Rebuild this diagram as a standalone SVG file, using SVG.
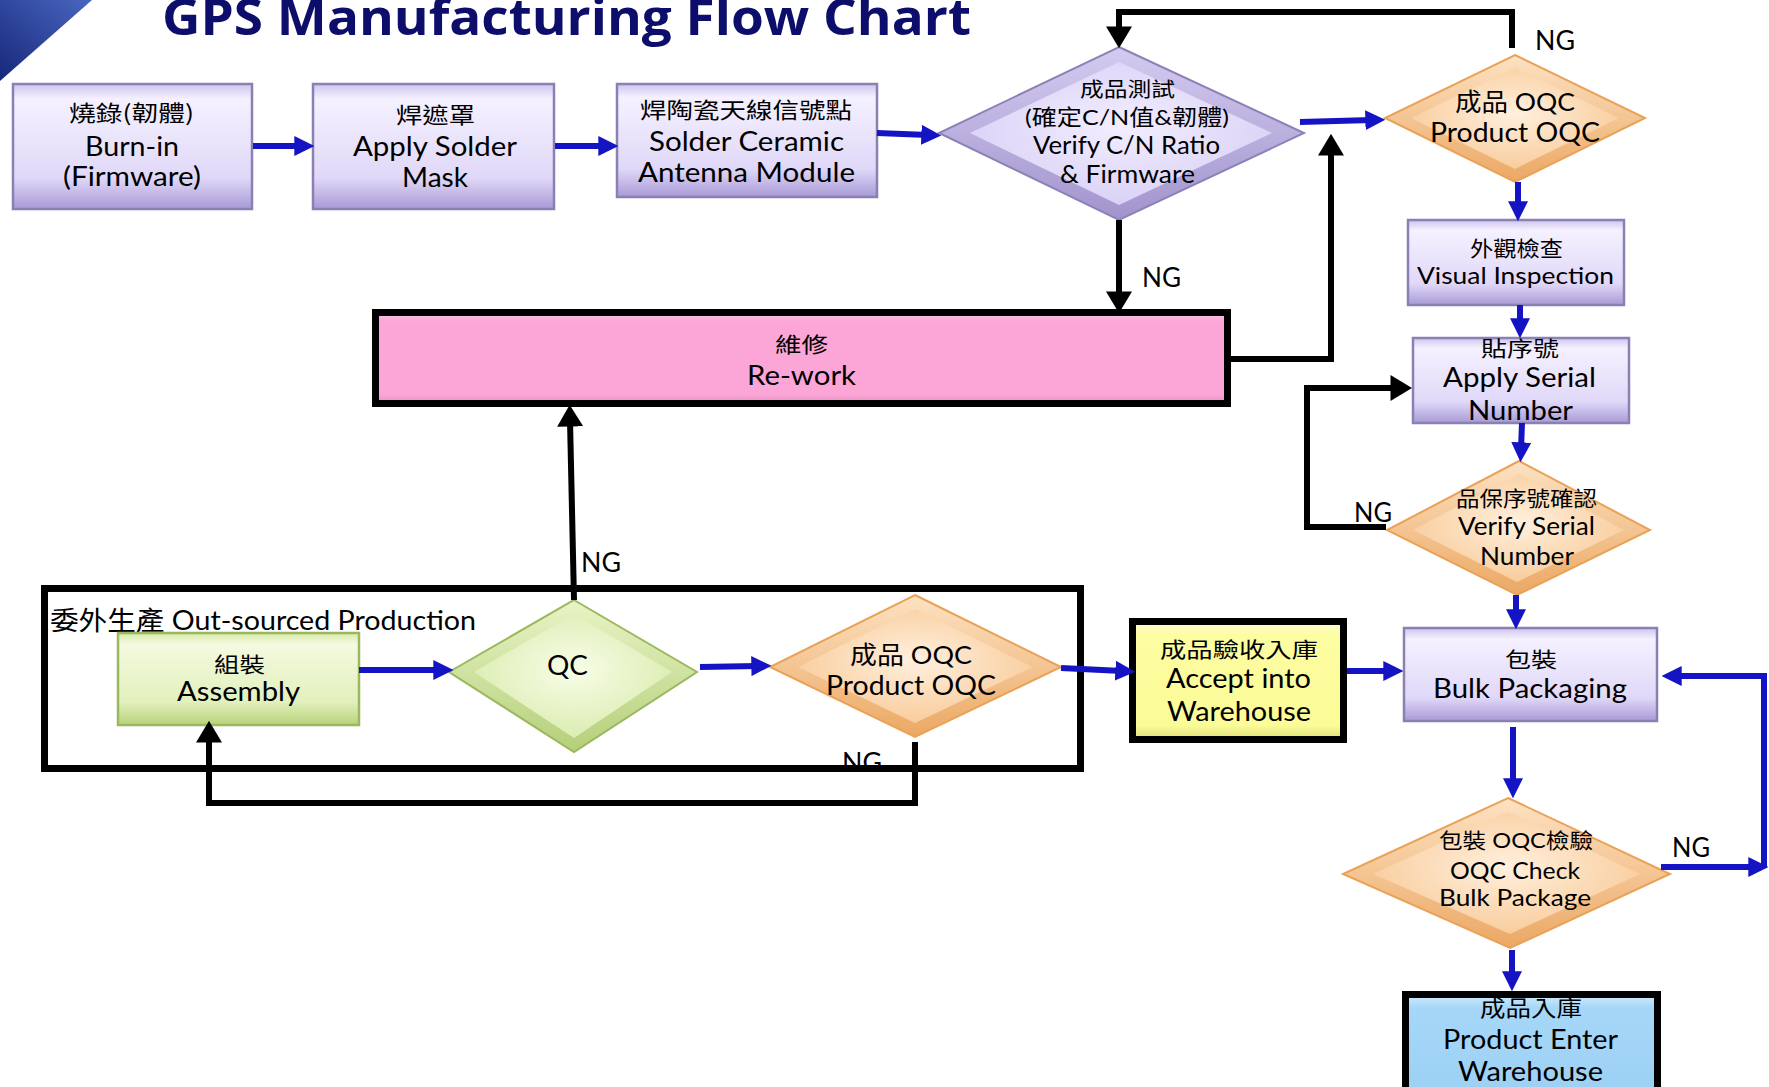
<svg xmlns="http://www.w3.org/2000/svg" width="1769" height="1087" viewBox="0 0 1769 1087">
<style>
.t{font-family:Lato,"Noto Sans CJK TC",sans-serif;fill:#000;text-anchor:middle}
.c{font-family:"Noto Sans CJK TC",sans-serif;fill:#000;text-anchor:middle}
.ng{font-family:Lato,"Noto Sans CJK TC",sans-serif;fill:#000;font-size:26px}
.blue{fill:none;stroke:#1414c4;stroke-width:6}
.blk{fill:none;stroke:#000;stroke-width:6}
.pbox{fill:url(#gPur);stroke:#8a80b4;stroke-width:2.5}
.gbox{fill:url(#gGrn);stroke:#9cb85e;stroke-width:2.5}
</style>
<defs>
<linearGradient id="gTri" x1="1" y1="0" x2="0" y2="1"><stop offset="0" stop-color="#4a66c0"/><stop offset="1" stop-color="#16287a"/></linearGradient>
<linearGradient id="gPur" x1="0" y1="0" x2="0" y2="1"><stop offset="0" stop-color="#cfc4ee"/><stop offset="0.12" stop-color="#f5f1ff"/><stop offset="0.75" stop-color="#e0d8f8"/><stop offset="1" stop-color="#a89ad6"/></linearGradient>
<linearGradient id="gGrn" x1="0" y1="0" x2="0" y2="1"><stop offset="0" stop-color="#d8eaa8"/><stop offset="0.12" stop-color="#f4fae0"/><stop offset="0.75" stop-color="#e2f0bc"/><stop offset="1" stop-color="#b7d37a"/></linearGradient>
<linearGradient id="gPink" x1="0" y1="0" x2="0" y2="1"><stop offset="0" stop-color="#fbc6e4"/><stop offset="0.1" stop-color="#fca6d7"/><stop offset="0.9" stop-color="#fca6d7"/><stop offset="1" stop-color="#e58cbf"/></linearGradient>
<linearGradient id="gYel" x1="0" y1="0" x2="0" y2="1"><stop offset="0" stop-color="#fefed0"/><stop offset="0.12" stop-color="#fdfda2"/><stop offset="0.88" stop-color="#fbfb98"/><stop offset="1" stop-color="#e0e07a"/></linearGradient>
<linearGradient id="gBlu" x1="0" y1="0" x2="0" y2="1"><stop offset="0" stop-color="#d0ecfc"/><stop offset="0.12" stop-color="#a6d7f8"/><stop offset="1" stop-color="#9bd0f4"/></linearGradient>
<linearGradient id="dPur" x1="0" y1="0" x2="0" y2="1"><stop offset="0" stop-color="#d4cbf0"/><stop offset="1" stop-color="#a294cc"/></linearGradient>
<radialGradient id="iPur" cx="0.5" cy="0.45" r="0.6"><stop offset="0" stop-color="#f2eeff"/><stop offset="1" stop-color="#d8cff5"/></radialGradient>
<linearGradient id="dOra" x1="0" y1="0" x2="0" y2="1"><stop offset="0" stop-color="#fde2c2"/><stop offset="1" stop-color="#eba864"/></linearGradient>
<radialGradient id="iOra" cx="0.5" cy="0.45" r="0.6"><stop offset="0" stop-color="#fff0de"/><stop offset="1" stop-color="#f8c996"/></radialGradient>
<linearGradient id="dGrn" x1="0" y1="0" x2="0" y2="1"><stop offset="0" stop-color="#e8f4c6"/><stop offset="1" stop-color="#b5cf7a"/></linearGradient>
<radialGradient id="iGrn" cx="0.5" cy="0.45" r="0.6"><stop offset="0" stop-color="#f8fde8"/><stop offset="1" stop-color="#d9ebac"/></radialGradient>
<marker id="ab" markerUnits="userSpaceOnUse" markerWidth="20" markerHeight="20" refX="6" refY="9" orient="auto" viewBox="0 0 18 18"><path d="M0,0 L18,9 L0,18 z" fill="#1414c4"/></marker>
<marker id="ak" markerUnits="userSpaceOnUse" markerWidth="22" markerHeight="26" refX="6" refY="12" orient="auto" viewBox="0 0 20 24"><path d="M0,0 L20,12 L0,24 z" fill="#000"/></marker>
</defs>

<rect x="0" y="0" width="1769" height="1087" fill="#fff"/>
<polygon points="0,0 92,0 0,81" fill="url(#gTri)"/>
<text x="162" y="35" font-family="'Open Sans',Lato,sans-serif" font-weight="bold" font-size="50" fill="#0d0d6b" textLength="809" lengthAdjust="spacingAndGlyphs">GPS Manufacturing Flow Chart</text>

<g id="outsourced">
<rect x="44.5" y="588.5" width="1036" height="180" fill="#fff" stroke="#000" stroke-width="7"/>
<text x="50" y="630" font-family="Lato,'Noto Sans CJK TC',sans-serif" font-size="26" textLength="426" lengthAdjust="spacingAndGlyphs">委外生產 Out-sourced Production</text>
</g>

<g id="burnin">
<rect class="pbox" x="13" y="84" width="239" height="125"/>
<text class="c" x="131.5" y="121" font-size="22" textLength="125" lengthAdjust="spacingAndGlyphs">燒錄(韌體)</text>
<text class="t" x="132" y="156" font-size="27" textLength="94" lengthAdjust="spacingAndGlyphs">Burn-in</text>
<text class="t" x="132" y="186" font-size="27" textLength="138" lengthAdjust="spacingAndGlyphs">(Firmware)</text>
</g>

<g id="soldermask">
<rect class="pbox" x="313" y="84" width="241" height="125"/>
<text class="c" x="435.5" y="123" font-size="22" textLength="79" lengthAdjust="spacingAndGlyphs">焊遮罩</text>
<text class="t" x="435" y="156" font-size="27" textLength="164" lengthAdjust="spacingAndGlyphs">Apply Solder</text>
<text class="t" x="435" y="187" font-size="27" textLength="66" lengthAdjust="spacingAndGlyphs">Mask</text>
</g>

<g id="antenna">
<rect class="pbox" x="617" y="84" width="260" height="113"/>
<text class="c" x="746" y="118" font-size="22" textLength="212" lengthAdjust="spacingAndGlyphs">焊陶瓷天線信號點</text>
<text class="t" x="746.5" y="151" font-size="26" textLength="195" lengthAdjust="spacingAndGlyphs">Solder Ceramic</text>
<text class="t" x="746.5" y="182" font-size="26" textLength="217" lengthAdjust="spacingAndGlyphs">Antenna Module</text>
</g>

<g id="test">
<polygon points="1119,47 1304,133 1119,220 939,133" fill="url(#dPur)" stroke="#8c82b8" stroke-width="2"/>
<polygon points="1119,62 1272,133 1119,205 970,133" fill="url(#iPur)"/>
<text class="c" x="1127.5" y="97" font-size="20" textLength="95" lengthAdjust="spacingAndGlyphs">成品測試</text>
<text class="t" x="1127" y="125" font-size="22" textLength="204" lengthAdjust="spacingAndGlyphs">(確定C/N值&amp;韌體)</text>
<text class="t" x="1126.5" y="154" font-size="25" textLength="187" lengthAdjust="spacingAndGlyphs">Verify C/N Ratio</text>
<text class="t" x="1127.5" y="183" font-size="25" textLength="135" lengthAdjust="spacingAndGlyphs">&amp; Firmware</text>
</g>

<g id="oqc1">
<polygon points="1515,55 1645,118 1515,182 1385,118" fill="url(#dOra)" stroke="#e9a257" stroke-width="2"/>
<polygon points="1515,68 1619,118 1515,169 1411,118" fill="url(#iOra)"/>
<text class="t" x="1515" y="111" font-size="25" textLength="120" lengthAdjust="spacingAndGlyphs">成品 OQC</text>
<text class="t" x="1515" y="142" font-size="27" textLength="170" lengthAdjust="spacingAndGlyphs">Product OQC</text>
</g>

<g id="visual">
<rect class="pbox" x="1408" y="220" width="216" height="85"/>
<text class="c" x="1516.5" y="256" font-size="21" textLength="93" lengthAdjust="spacingAndGlyphs">外觀檢查</text>
<text class="t" x="1515.5" y="284" font-size="24" textLength="197" lengthAdjust="spacingAndGlyphs">Visual Inspection</text>
</g>

<g id="serial">
<rect class="pbox" x="1413" y="338" width="216" height="85"/>
<text class="c" x="1520" y="356" font-size="21" textLength="78" lengthAdjust="spacingAndGlyphs">貼序號</text>
<text class="t" x="1519.5" y="387" font-size="27" textLength="153" lengthAdjust="spacingAndGlyphs">Apply Serial</text>
<text class="t" x="1520.5" y="420" font-size="27" textLength="105" lengthAdjust="spacingAndGlyphs">Number</text>
</g>

<g id="verify">
<polygon points="1519,461 1650,530 1517,595 1387,530" fill="url(#dOra)" stroke="#e9a257" stroke-width="2"/>
<polygon points="1519,474 1624,530 1517,582 1413,530" fill="url(#iOra)"/>
<text class="c" x="1526.5" y="506" font-size="21" textLength="141" lengthAdjust="spacingAndGlyphs">品保序號確認</text>
<text class="t" x="1526.5" y="535" font-size="25" textLength="137" lengthAdjust="spacingAndGlyphs">Verify Serial</text>
<text class="t" x="1527" y="565" font-size="25" textLength="94" lengthAdjust="spacingAndGlyphs">Number</text>
</g>

<g id="rework">
<rect x="375.5" y="312.5" width="852" height="91" fill="url(#gPink)" stroke="#000" stroke-width="7"/>
<text class="c" x="801.5" y="352" font-size="21" textLength="53" lengthAdjust="spacingAndGlyphs">維修</text>
<text class="t" x="801.5" y="385" font-size="27" textLength="109" lengthAdjust="spacingAndGlyphs">Re-work</text>
</g>

<g id="assembly">
<rect class="gbox" x="118" y="633" width="241" height="92"/>
<text class="c" x="239.5" y="672" font-size="21" textLength="51" lengthAdjust="spacingAndGlyphs">組裝</text>
<text class="t" x="238.5" y="701" font-size="26" textLength="123" lengthAdjust="spacingAndGlyphs">Assembly</text>
</g>

<g id="qc">
<polygon points="574,600 697,672 574,752 449,672" fill="url(#dGrn)" stroke="#9cb85e" stroke-width="2"/>
<polygon points="574,614 672,672 574,738 474,672" fill="url(#iGrn)"/>
<text class="t" x="567.5" y="675" font-size="26" textLength="41" lengthAdjust="spacingAndGlyphs">QC</text>
</g>

<g id="oqc2">
<polygon points="915,595 1061,667 915,737 770,667" fill="url(#dOra)" stroke="#e9a257" stroke-width="2"/>
<polygon points="915,609 1033,667 915,723 798,667" fill="url(#iOra)"/>
<text class="t" x="911" y="664" font-size="25" textLength="122" lengthAdjust="spacingAndGlyphs">成品 OQC</text>
<text class="t" x="911" y="695" font-size="27" textLength="170" lengthAdjust="spacingAndGlyphs">Product OQC</text>
</g>

<g id="accept">
<rect x="1132.5" y="621.5" width="211" height="118" fill="url(#gYel)" stroke="#000" stroke-width="7"/>
<text class="c" x="1239" y="657" font-size="21" textLength="158" lengthAdjust="spacingAndGlyphs">成品驗收入庫</text>
<text class="t" x="1238.5" y="688" font-size="27" textLength="145" lengthAdjust="spacingAndGlyphs">Accept into</text>
<text class="t" x="1239" y="721" font-size="27" textLength="144" lengthAdjust="spacingAndGlyphs">Warehouse</text>
</g>

<g id="bulk">
<rect class="pbox" x="1404" y="628" width="253" height="93"/>
<text class="c" x="1531" y="667" font-size="21" textLength="52" lengthAdjust="spacingAndGlyphs">包裝</text>
<text class="t" x="1530" y="698" font-size="27" textLength="194" lengthAdjust="spacingAndGlyphs">Bulk Packaging</text>
</g>

<g id="oqccheck">
<polygon points="1508,798 1670,874 1510,948 1343,874" fill="url(#dOra)" stroke="#e9a257" stroke-width="2"/>
<polygon points="1508,812 1640,874 1510,934 1373,874" fill="url(#iOra)"/>
<text class="t" x="1516" y="848" font-size="21" textLength="154" lengthAdjust="spacingAndGlyphs">包裝 OQC檢驗</text>
<text class="t" x="1515" y="879" font-size="24" textLength="130" lengthAdjust="spacingAndGlyphs">OQC Check</text>
<text class="t" x="1515" y="906" font-size="24" textLength="152" lengthAdjust="spacingAndGlyphs">Bulk Package</text>
</g>

<g id="enter">
<rect x="1405.5" y="994.5" width="252" height="110" fill="url(#gBlu)" stroke="#000" stroke-width="7"/>
<text class="c" x="1531" y="1016" font-size="22" textLength="102" lengthAdjust="spacingAndGlyphs">成品入庫</text>
<text class="t" x="1530.5" y="1049" font-size="27" textLength="175" lengthAdjust="spacingAndGlyphs">Product Enter</text>
<text class="t" x="1530.5" y="1081" font-size="27" textLength="145" lengthAdjust="spacingAndGlyphs">Warehouse</text>
</g>

<g id="connectors">
<line class="blue" x1="253" y1="146" x2="301" y2="146" marker-end="url(#ab)"/>
<line class="blue" x1="555" y1="146" x2="605" y2="146" marker-end="url(#ab)"/>
<line class="blue" x1="877" y1="133" x2="928" y2="135" marker-end="url(#ab)"/>
<line class="blue" x1="1300" y1="122" x2="1372" y2="120" marker-end="url(#ab)"/>
<line class="blue" x1="1518" y1="182" x2="1518" y2="208" marker-end="url(#ab)"/>
<line class="blue" x1="1520" y1="305" x2="1520" y2="325" marker-end="url(#ab)"/>
<line class="blue" x1="1522" y1="423" x2="1521" y2="449" marker-end="url(#ab)"/>
<line class="blue" x1="1516" y1="595" x2="1516" y2="616" marker-end="url(#ab)"/>
<line class="blue" x1="359" y1="670" x2="440" y2="670" marker-end="url(#ab)"/>
<line class="blue" x1="700" y1="667" x2="758" y2="666" marker-end="url(#ab)"/>
<line class="blue" x1="1061" y1="668" x2="1122" y2="671" marker-end="url(#ab)"/>
<line class="blue" x1="1347" y1="671" x2="1390" y2="671" marker-end="url(#ab)"/>
<line class="blue" x1="1513" y1="727" x2="1513" y2="785" marker-end="url(#ab)"/>
<line class="blue" x1="1512" y1="950" x2="1512" y2="978" marker-end="url(#ab)"/>
<line class="blue" x1="1661" y1="867" x2="1755" y2="867" marker-end="url(#ab)"/>
<path class="blue" d="M1764,867 L1764,676 L1675,676" marker-end="url(#ab)"/>

<path class="blk" d="M1512,48 L1512,12 L1119,12 L1119,33" marker-end="url(#ak)"/>
<line class="blk" x1="1119" y1="220" x2="1119" y2="298" marker-end="url(#ak)"/>
<path class="blk" d="M1228,359 L1331,359 L1331,149" marker-end="url(#ak)"/>
<line class="blk" x1="574" y1="600" x2="570" y2="420" marker-end="url(#ak)"/>
<path class="blk" d="M915,742 L915,803 L209,803 L209,736" marker-end="url(#ak)"/>
<path class="blk" d="M1386,527 L1307,527 L1307,388 L1397,388" marker-end="url(#ak)"/>

<text class="ng" x="1535" y="50" textLength="40" lengthAdjust="spacingAndGlyphs">NG</text>
<text class="ng" x="1142" y="287" textLength="39" lengthAdjust="spacingAndGlyphs">NG</text>
<text class="ng" x="581" y="572" textLength="40" lengthAdjust="spacingAndGlyphs">NG</text>
<text class="ng" x="842" y="772" textLength="40" lengthAdjust="spacingAndGlyphs">NG</text>
<text class="ng" x="1354" y="522" textLength="38" lengthAdjust="spacingAndGlyphs">NG</text>
<text class="ng" x="1672" y="857" textLength="38" lengthAdjust="spacingAndGlyphs">NG</text>
</g>
</svg>
